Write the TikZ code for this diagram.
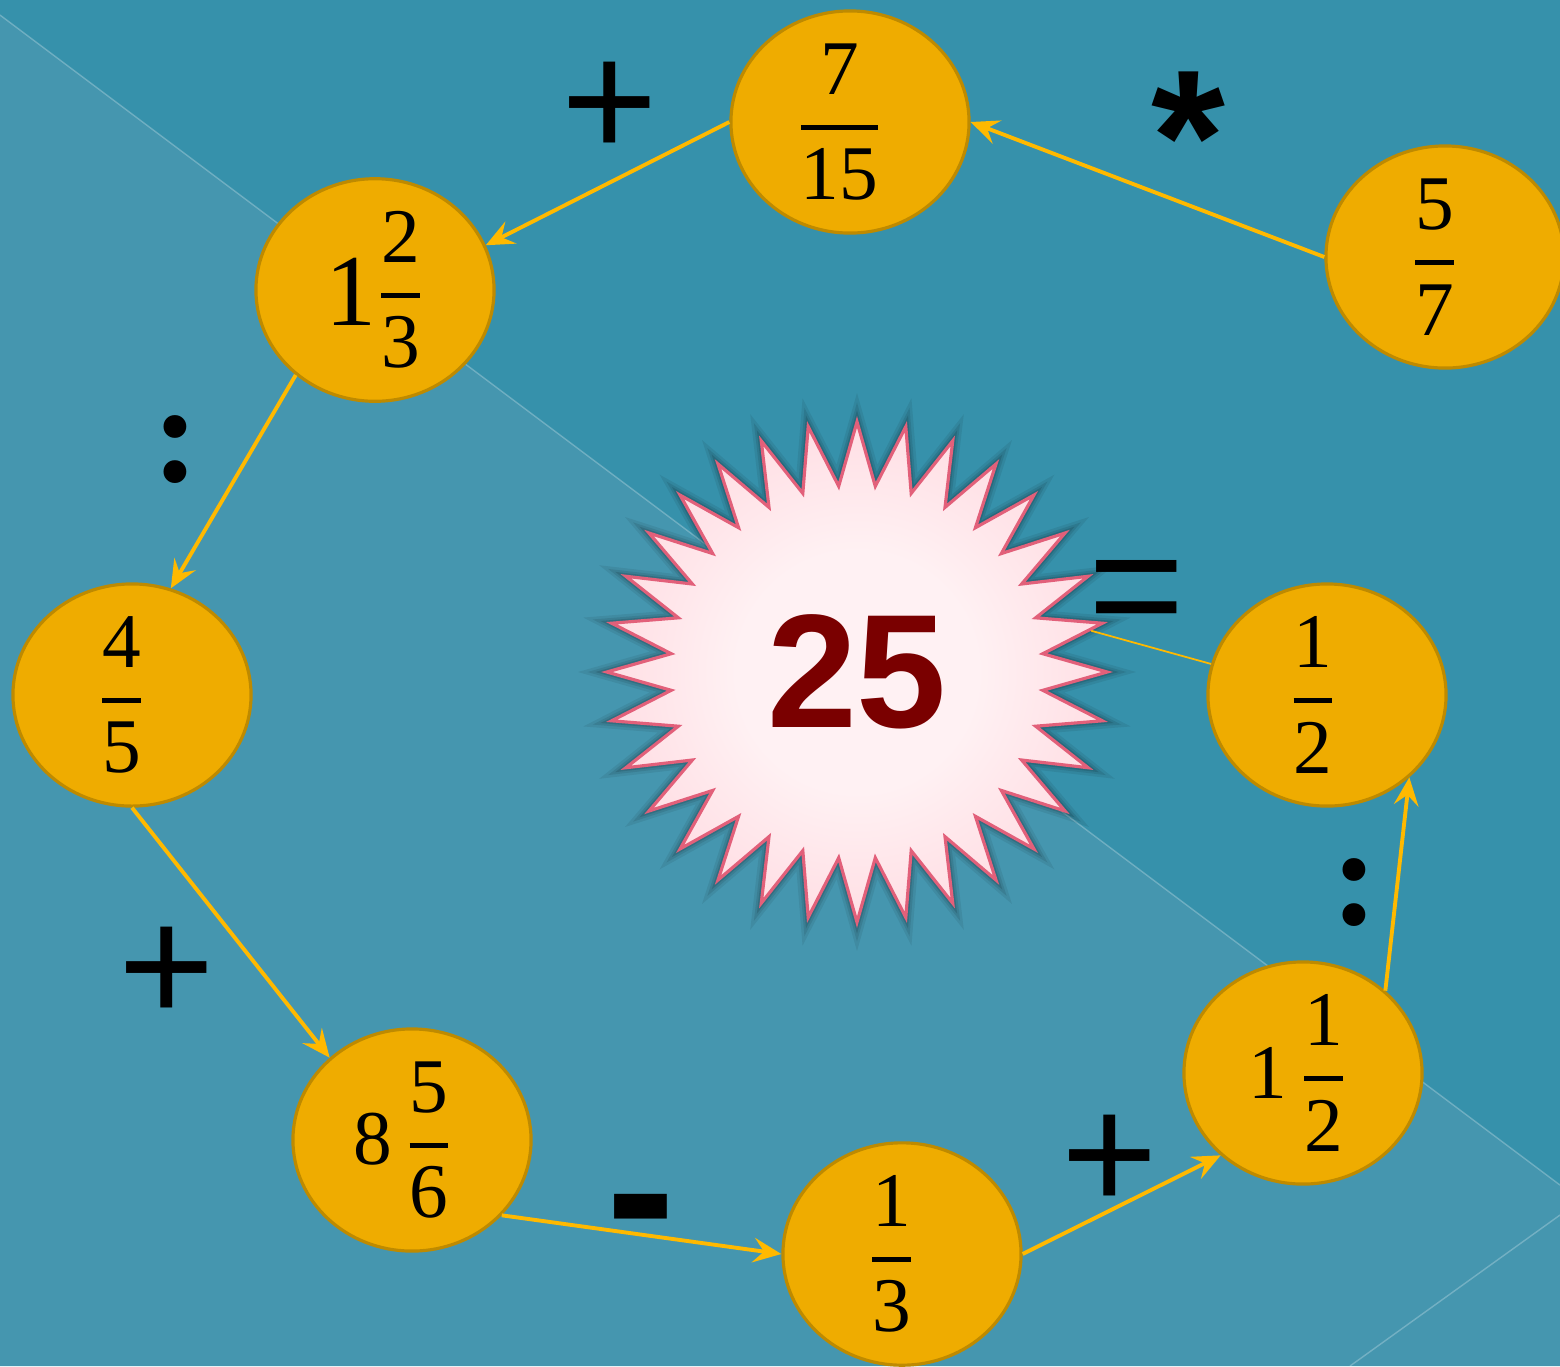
\RequirePackage{fix-cm}
\documentclass[tikz,border=0pt]{standalone}
\usepackage{amsmath}
\usepackage{fontspec}
\setmainfont{Liberation Serif}
\newfontfamily\opfont{Liberation Sans}
\newfontfamily\dotfont{Liberation Serif}
\usetikzlibrary{positioning,shapes.geometric,arrows.meta}

\definecolor{bgdark}{HTML}{3691AB}
\definecolor{bglight}{HTML}{4596AF}
\definecolor{discfill}{HTML}{EFAC00}
\definecolor{discedge}{HTML}{BE8A00}
\definecolor{arrowc}{HTML}{FFB900}
\definecolor{burstin}{HTML}{FFF1F3}
\definecolor{burstmid}{HTML}{FFDDE3}
\definecolor{burstout}{HTML}{FFC2CC}
\definecolor{burstedge}{HTML}{E2607A}
\definecolor{darkred}{HTML}{7A0000}

\pgfdeclareradialshading{burstshade}{\pgfpoint{0bp}{0bp}}{color(0bp)=(burstin); color(12bp)=(burstin); color(26bp)=(burstmid); color(38bp)=(burstout); color(50bp)=(burstout)}

\newcommand{\gf}[2]{\genfrac{}{}{1.4pt}{0}{\text{#1}}{\text{#2}}}
\newcommand{\frc}[2]{$\gf{#1}{#2}$\kern6pt}

\begin{document}
\begin{tikzpicture}[x=0.01cm, y=-0.01cm,
        disc/.style={ellipse, draw=discedge, line width=0.9pt, fill=discfill, minimum width=2.38cm, minimum height=2.22cm, inner sep=0pt, font=\fontsize{22}{26}\selectfont},
        burst/.style={star, star points=32, star point ratio=1.34, minimum size=5cm, inner sep=0pt},
        op/.style={inner sep=0pt, text=black, font=\opfont\fontsize{47}{47}\selectfont},
        link/.style={-{Stealth[length=8pt, width=7pt, inset=3pt]}, line width=1.1pt, draw=arrowc}
    ]

    % background
    \useasboundingbox (0,0) rectangle (1560,1366);
    \fill[bgdark] (0,0) rectangle (1560,1366);
    \fill[bglight] (0,15) -- (1560,1185) -- (1560,1366) -- (0,1366) -- cycle;
    \draw[white, opacity=0.25, line width=0.4pt] (0,15) -- (1560,1185);
    \draw[white, opacity=0.25, line width=0.4pt] (1560,1215) -- (1350,1366);

    % the result in the middle
    \foreach \w/\o in {4.5/0.07, 3/0.09, 1.8/0.12}
        \node[burst, draw=black, line width=\w pt, opacity=\o] at (857,672) {};
    \node[burst, draw=burstedge, line width=0.9pt, shading=burstshade] (burst) at (857,672)
        {\opfont\bfseries\fontsize{46}{46}\selectfont\color{darkred}25};

    % the chain of numbers
    \node[disc] (n57) at (1445,257) {\frc{5}{7}};
    \node[disc] (n715) at (850,122) {\frc{7}{15}};
    \node[disc] (n123) at (375,290) {\raisebox{-3pt}{\fontsize{29}{29}\selectfont 1}$\gf{2}{3}$};
    \node[disc] (n45) at (132,695) {\frc{4}{5}};
    \node[disc] (n856) at (412,1140) {$\text{8}\,\gf{5}{6}$\kern5pt};
    \node[disc] (n13) at (902,1254) {\frc{1}{3}};
    \node[disc] (n112) at (1303,1073) {$\text{1}\,\gf{1}{2}$\kern3pt};
    \node[disc] (n12) at (1327,695) {\frc{1}{2}\kern2pt};

    \draw[link] (n57.west) -- (n715.east);
    \draw[link] (n715.west) -- (n123.22);
    \draw[link] (n123.-133) -- (n45.70);
    \draw[link] (n45.south) -- (n856.135);
    \draw[link] (n856.-40) -- (n13.west);
    \draw[link] (n13.east) -- (n112.-135);
    \draw[link] (n112.45) -- (n12.-45);
    \draw[draw=arrowc, line width=0.5pt] (n12.165) -- (burst.10);

    % operations
    \node[op] (opmul) at (1188,137) {\bfseries\fontsize{54}{54}\selectfont *};
    \node[op] (opadd1) at (610,110) {+};
    \node[op] (opdiv1) at (176,450) {\dotfont\bfseries\fontsize{40}{40}\selectfont :};
    \node[op] (opadd2) at (167,975) {+};
    \node[op] (opsub) at (641,1227) {\bfseries\fontsize{59}{59}\selectfont -};
    \node[op] (opadd3) at (1110,1163) {+};
    \node[op] (opdiv2) at (1355,893) {\dotfont\bfseries\fontsize{40}{40}\selectfont :};
    \node[op] (opeq) at (1137,601) {=};
\end{tikzpicture}
\end{document}
